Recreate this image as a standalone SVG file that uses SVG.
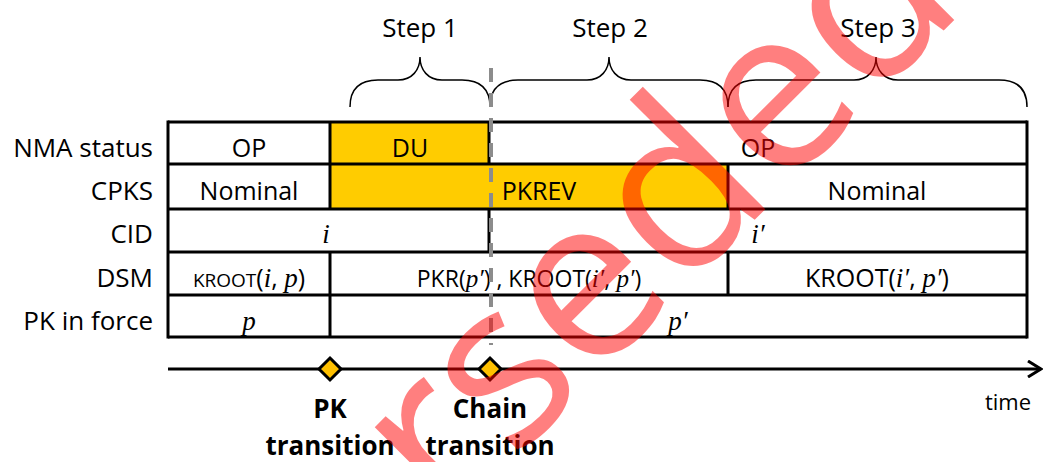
<svg xmlns="http://www.w3.org/2000/svg" width="1046" height="462" viewBox="0 0 1046 462">
<defs>
<style>
.lbl{font-family:"Open Sans","Liberation Sans",sans-serif;font-size:26px;fill:#000;text-anchor:end}
.cell{font-family:"Open Sans","Liberation Sans",sans-serif;font-size:25px;fill:#000;text-anchor:middle}
.m{font-family:"Liberation Serif","DejaVu Serif",serif;font-style:italic;font-size:27px}
.step{font-family:"Open Sans","Liberation Sans",sans-serif;font-size:26px;fill:#000;text-anchor:middle}
.bold{font-family:"Open Sans","Liberation Sans",sans-serif;font-size:26px;font-weight:bold;fill:#000;text-anchor:middle}
.brace{fill:none;stroke:#000;stroke-width:1.5}
.hl{stroke:#000;stroke-width:3;fill:none}
.y{fill:#FFCC00}
.w{fill:#FFFFFF}
.wm{font-family:"Open Sans","Liberation Sans",sans-serif;font-size:228px;fill:#FF0000;fill-opacity:0.5}
</style>
<marker id="arr" viewBox="0 0 16 18" refX="14" refY="9" markerWidth="16" markerHeight="18" markerUnits="userSpaceOnUse" orient="auto">
<polyline points="1,1 14,9 1,17" fill="none" stroke="#000" stroke-width="3"/>
</marker>
</defs>
<rect width="1046" height="462" fill="#fff"/>

<g id="steps">
<text class="step" x="420" y="37">Step 1</text>
<text class="step" x="610" y="37">Step 2</text>
<text class="step" x="878" y="37">Step 3</text>
<path class="brace" d="M350,107 C350,90 358,80 378,80 L398,80 C412,80 420,70 420,57 C420,70 428,80 442,80 L462,80 C482,80 490,90 490,107"/>
<path class="brace" d="M490,107 C490,90 498,80 518,80 L587,80 C601,80 609,70 609,57 C609,70 617,80 631,80 L700,80 C720,80 728,90 728,107"/>
<path class="brace" d="M728,107 C728,90 736,80 756,80 L854,80 C868,80 876,70 876,57 C876,70 884,80 898,80 L999,80 C1019,80 1027,90 1027,107"/>
</g>

<g id="labels">
<text class="lbl" x="153" y="157">NMA status</text>
<text class="lbl" x="153" y="200">CPKS</text>
<text class="lbl" x="153" y="243">CID</text>
<text class="lbl" x="153" y="287">DSM</text>
<text class="lbl" x="153" y="330">PK in force</text>
</g>

<g id="row-nma">
<rect class="w" x="168" y="122" width="162" height="42"/>
<rect class="y" x="330" y="122" width="159" height="42"/>
<rect class="w" x="489" y="122" width="538" height="42"/>
<text class="cell" x="249" y="157">OP</text>
<text class="cell" x="410" y="157">DU</text>
<text class="cell" x="758" y="157">OP</text>
</g>

<g id="row-cpks">
<rect class="w" x="168" y="164" width="162" height="45"/>
<rect class="y" x="330" y="164" width="398" height="45"/>
<rect class="w" x="728" y="164" width="299" height="45"/>
<text class="cell" x="249" y="200">Nominal</text>
<text class="cell" x="539" y="200">PKREV</text>
<text class="cell" x="877" y="200">Nominal</text>
</g>

<g id="row-cid">
<text class="cell m" x="326" y="243">i</text>
<text class="cell m" x="758" y="243">i′</text>
</g>

<g id="row-dsm">
<text class="cell" x="249" y="287"><tspan style="font-size:19px">KROOT</tspan>(<tspan class="m">i</tspan>, <tspan class="m">p</tspan>)</text>
<text class="cell" x="529" y="287" style="font-size:23px">PKR(<tspan class="m" style="font-size:25px">p′</tspan>) , KROOT(<tspan class="m" style="font-size:25px">i′</tspan>,<tspan class="m" style="font-size:25px"> p′</tspan>)</text>
<text class="cell" x="877" y="287">KROOT(<tspan class="m">i′</tspan>, <tspan class="m">p′</tspan>)</text>
</g>

<g id="row-pk">
<text class="cell m" x="249" y="330">p</text>
<text class="cell m" x="678" y="330">p′</text>
</g>

<g id="grid">
<path class="hl" d="M168,122 H1027 M168,164 H1027 M168,209 H1027 M168,252 H1027 M168,295 H1027 M168,337 H1027"/>
<path class="hl" d="M168,120.5 V338.5 M1027,120.5 V338.5"/>
<path class="hl" d="M330,122 V209 M330,252 V337 M489,122 V164 M489,209 V252 M728,164 V209 M728,252 V295"/>
</g>

<g id="connectors">
<line x1="491" y1="68" x2="491" y2="345" stroke="#8C8C8C" stroke-width="4" stroke-dasharray="14 11"/>
<line x1="168" y1="369" x2="1041" y2="369" stroke="#000" stroke-width="3" marker-end="url(#arr)"/>
</g>

<g id="pk-transition">
<polygon points="330,358 341,369 330,380 319,369" fill="#FFC000" stroke="#000" stroke-width="3"/>
<text class="bold" x="330" y="418">PK</text>
<text class="bold" x="330" y="455">transition</text>
</g>

<g id="chain-transition">
<polygon points="490,358 501,369 490,380 479,369" fill="#FFC000" stroke="#000" stroke-width="3"/>
<text class="bold" x="490" y="418">Chain</text>
<text class="bold" x="490" y="455">transition</text>
</g>

<text class="step" x="1008" y="410" style="font-size:22px">time</text>

<g id="watermark">
<text class="wm" transform="rotate(-45)" x="-589" y="689">Superseded</text>
</g>
</svg>
